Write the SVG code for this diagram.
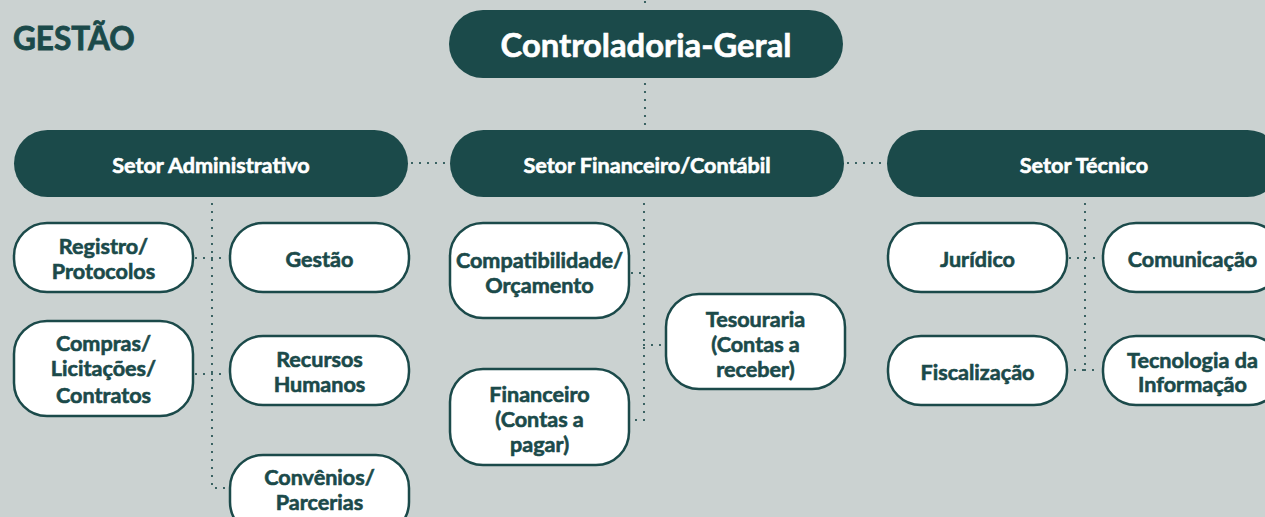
<svg xmlns="http://www.w3.org/2000/svg" width="1265" height="517" viewBox="0 0 1265 517">
<style>
.bg{fill:#cbd2d1}
.hdr{fill:#1b4a4a}
.box{fill:#ffffff;stroke:#1b4a4a;stroke-width:2.5}
.ht{fill:#ffffff;stroke:#ffffff;stroke-width:0.6;font-family:Lato,"Liberation Sans",sans-serif;font-weight:bold;text-anchor:middle}
.bt{fill:#1b4a4a;stroke:#1b4a4a;stroke-width:0.6;font-family:Lato,"Liberation Sans",sans-serif;font-weight:bold;font-size:21.6px;text-anchor:middle}
.dot{fill:none;stroke:#1b4a4a;stroke-width:2.2;stroke-linecap:round;stroke-dasharray:0 8}
</style>
<rect class="bg" x="0" y="0" width="1265" height="517"/>
<text id="title" x="13" y="50" font-family="Lato,'Liberation Sans',sans-serif" font-weight="bold" font-size="31.5" fill="#1b4a4a" stroke="#1b4a4a" stroke-width="0.8">GESTÃO</text>
<g id="connectors">
<path class="dot" d="M645 2V10M645 84V128"/>
<path class="dot" d="M412 163H448M848 163H885"/>
<path class="dot" d="M212 204V488H228M196 258H228M196 374H228"/>
<path class="dot" d="M644 204V420H632M632 273H644M644 345H664"/>
<path class="dot" d="M1085 204V370H1070M1070 258H1101M1085 370H1101"/>
</g>
<g id="controladoria"><rect class="hdr" x="449" y="10" width="394" height="68" rx="34"/><text class="ht" x="646" y="57" font-size="32.8">Controladoria-Geral</text></g>
<g id="setor-adm"><rect class="hdr" x="14" y="130" width="394" height="67" rx="33.5"/><text class="ht" x="211" y="173" font-size="21.6">Setor Administrativo</text></g>
<g id="setor-fin"><rect class="hdr" x="450" y="130" width="394" height="67" rx="33.5"/><text class="ht" x="647" y="173" font-size="21.6">Setor Financeiro/Contábil</text></g>
<g id="setor-tec"><rect class="hdr" x="887" y="130" width="394" height="67" rx="33.5"/><text class="ht" x="1084" y="173" font-size="21.6">Setor Técnico</text></g>
<g id="registro"><rect class="box" x="14" y="223" width="179" height="69" rx="33"/><text class="bt" x="103.5" y="254">Registro/</text><text class="bt" x="103.5" y="279">Protocolos</text></g>
<g id="gestao"><rect class="box" x="230" y="223" width="179" height="69" rx="33"/><text class="bt" x="319.5" y="267">Gestão</text></g>
<g id="compras"><rect class="box" x="14" y="321" width="179" height="95" rx="33"/><text class="bt" x="103.5" y="351">Compras/</text><text class="bt" x="103.5" y="376">Licitações/</text><text class="bt" x="103.5" y="403">Contratos</text></g>
<g id="rh"><rect class="box" x="230" y="336" width="179" height="69" rx="33"/><text class="bt" x="319.5" y="367">Recursos</text><text class="bt" x="319.5" y="392">Humanos</text></g>
<g id="convenios"><rect class="box" x="230" y="455" width="179" height="80" rx="33"/><text class="bt" x="319.5" y="485">Convênios/</text><text class="bt" x="319.5" y="510">Parcerias</text></g>
<g id="compat"><rect class="box" x="450" y="223" width="179" height="95" rx="33"/><text class="bt" x="539.5" y="268">Compatibilidade/</text><text class="bt" x="539.5" y="293">Orçamento</text></g>
<g id="financeiro"><rect class="box" x="450" y="369" width="179" height="96" rx="33"/><text class="bt" x="539.5" y="402">Financeiro</text><text class="bt" x="539.5" y="427">(Contas a</text><text class="bt" x="539.5" y="452">pagar)</text></g>
<g id="tesouraria"><rect class="box" x="666" y="294" width="179" height="95" rx="33"/><text class="bt" x="755.5" y="327">Tesouraria</text><text class="bt" x="755.5" y="352">(Contas a</text><text class="bt" x="755.5" y="377">receber)</text></g>
<g id="juridico"><rect class="box" x="888" y="223" width="179" height="69" rx="33"/><text class="bt" x="977.5" y="267">Jurídico</text></g>
<g id="comunicacao"><rect class="box" x="1103" y="223" width="179" height="69" rx="33"/><text class="bt" x="1192.5" y="267">Comunicação</text></g>
<g id="fiscalizacao"><rect class="box" x="888" y="336" width="179" height="69" rx="33"/><text class="bt" x="977.5" y="380">Fiscalização</text></g>
<g id="ti"><rect class="box" x="1103" y="336" width="179" height="69" rx="33"/><text class="bt" x="1192.5" y="368">Tecnologia da</text><text class="bt" x="1192.5" y="392">Informação</text></g>
</svg>
